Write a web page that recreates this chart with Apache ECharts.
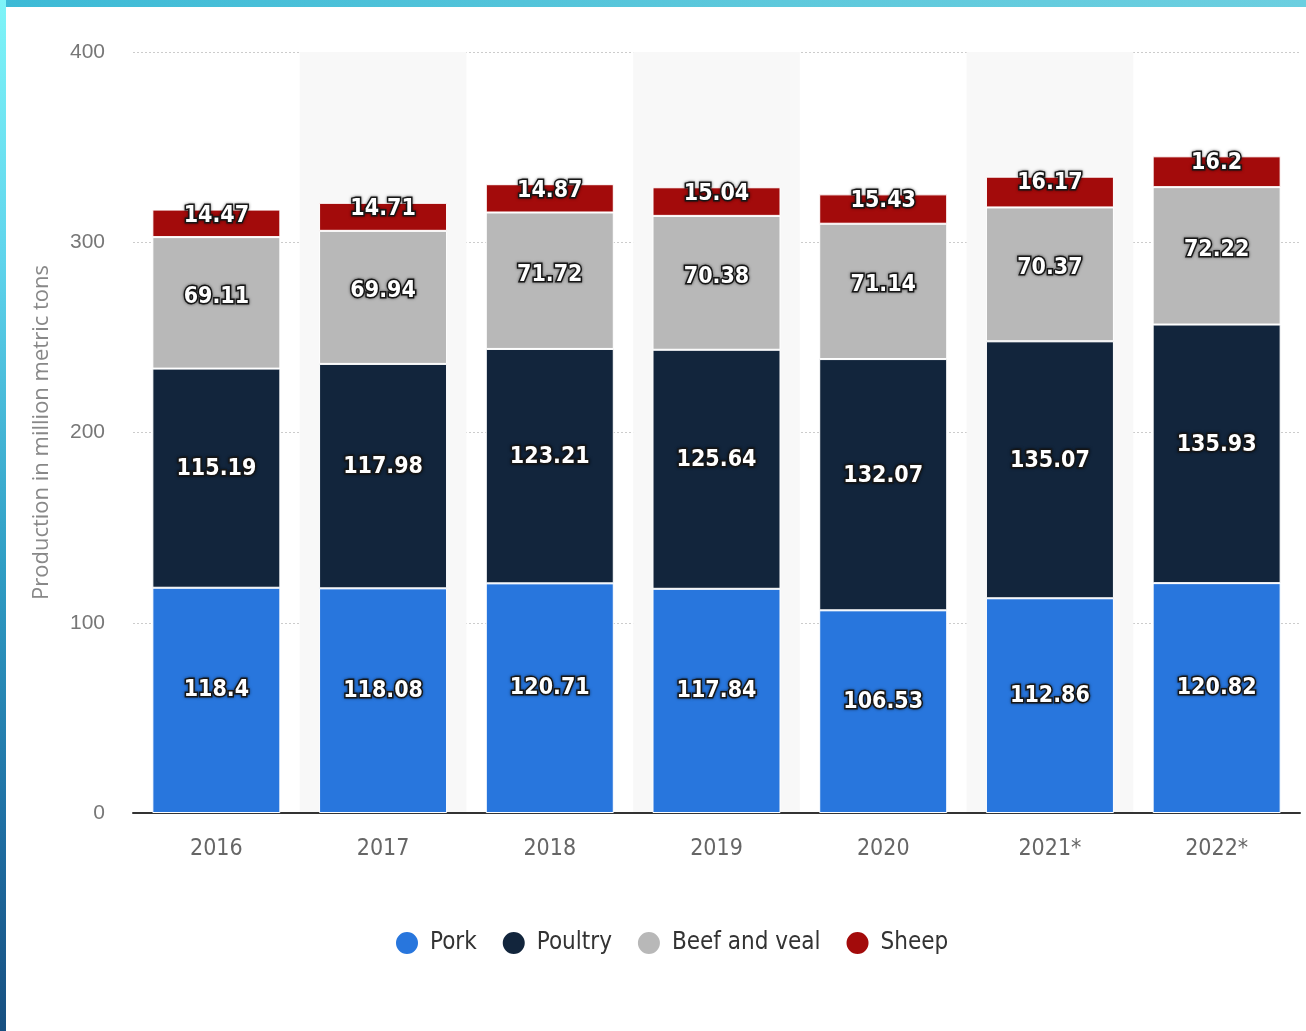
<!DOCTYPE html>
<html><head><meta charset="utf-8">
<script src="https://cdn.jsdelivr.net/npm/echarts@6/dist/echarts.min.js"></script>
<style>
html,body{margin:0;padding:0;background:#fff;overflow:hidden;}
#c{position:absolute;left:0;top:0;width:1306px;height:1031px;}
#ftop{position:absolute;left:0;top:0;width:1306px;height:7px;background:linear-gradient(90deg,#3dbad6,#5ec9dc 60%,#6ccfe0);z-index:5;}
#fleft{position:absolute;left:0;top:0;width:6px;height:1031px;background:linear-gradient(180deg,#7ef4f8 0%,#5fd4ec 25%,#2f9dc4 55%,#1f6fa3 80%,#174f80 100%);z-index:5;}
</style></head>
<body>
<div id="c"></div><div id="ftop"></div><div id="fleft"></div>
<script>
const categories = ['2016','2017','2018','2019','2020','2021*','2022*'];
const pork = [118.4,118.08,120.71,117.84,106.53,112.86,120.82];
const poultry = [115.19,117.98,123.21,125.64,132.07,135.07,135.93];
const beef = [69.11,69.94,71.72,70.38,71.14,70.37,72.22];
const sheep = [14.47,14.71,14.87,15.04,15.43,16.17,16.2];
const yTicks = [0,100,200,300,400];

const condensed = '"Liberation Sans Narrow","DejaVu Sans Condensed",sans-serif';
const labelFont = {
  show:true, color:'#fff', fontFamily:condensed,
  fontWeight:'bold', fontSize:23, textBorderColor:'#1a1a1a', textBorderWidth:3,
  textShadowColor:'rgba(0,0,0,0.5)', textShadowBlur:3,
  formatter:p=>String(p.value)
};
function mk(name,data,color,extraLabel){
  return {name, type:'bar', stack:'t', data, barWidth:128,
    itemStyle:{color, borderColor:'#fff', borderWidth:1},
    label:Object.assign({}, labelFont, extraLabel),
    emphasis:{disabled:true}};
}
const chart = echarts.init(document.getElementById('c'), null, {renderer:'canvas'});
chart.setOption({
  animation:false,
  backgroundColor:'transparent',
  grid:{left:133, right:6, top:52, bottom:218, containLabel:false},
  legend:{
    bottom:70, left:389, icon:'circle', itemWidth:24, itemHeight:24, itemGap:24,
    textStyle:{fontFamily:condensed, fontSize:24, color:'#333', padding:[0,0,0,6]},
    data:['Pork','Poultry','Beef and veal','Sheep']
  },
  xAxis:{type:'category', data:categories,
    axisLine:{lineStyle:{color:'#333', width:2}}, axisTick:{show:false},
    axisLabel:{color:'#666', fontSize:23, margin:25, fontFamily:condensed},
    splitArea:{show:true, areaStyle:{color:['rgba(255,255,255,0)','#f8f8f8']}}
  },
  yAxis:{type:'value', min:0, max:400, interval:100,
    name:'Production in million metric tons', nameLocation:'middle', nameGap:80,
    nameTextStyle:{color:'#888', fontSize:22, fontFamily:'"Open Sans",sans-serif'},
    axisLine:{show:false}, axisTick:{show:false},
    axisLabel:{color:'#777', fontSize:21, margin:28, fontFamily:'"Liberation Sans",sans-serif',
      formatter:v=>yTicks.includes(v)?String(v):''},
    splitLine:{lineStyle:{color:'#ccc', type:[2,2], width:1}}
  },
  series:[
    mk('Pork',pork,'#2876dd',{position:'inside', offset:[0,-10]}),
    mk('Poultry',poultry,'#12253c',{position:'inside', offset:[0,-9]}),
    mk('Beef and veal',beef,'#b8b8b8',{position:'inside', offset:[0,-6]}),
    mk('Sheep',sheep,'#a30b0b',{position:'top', distance:-18})
  ]
});
</script>
</body></html>
